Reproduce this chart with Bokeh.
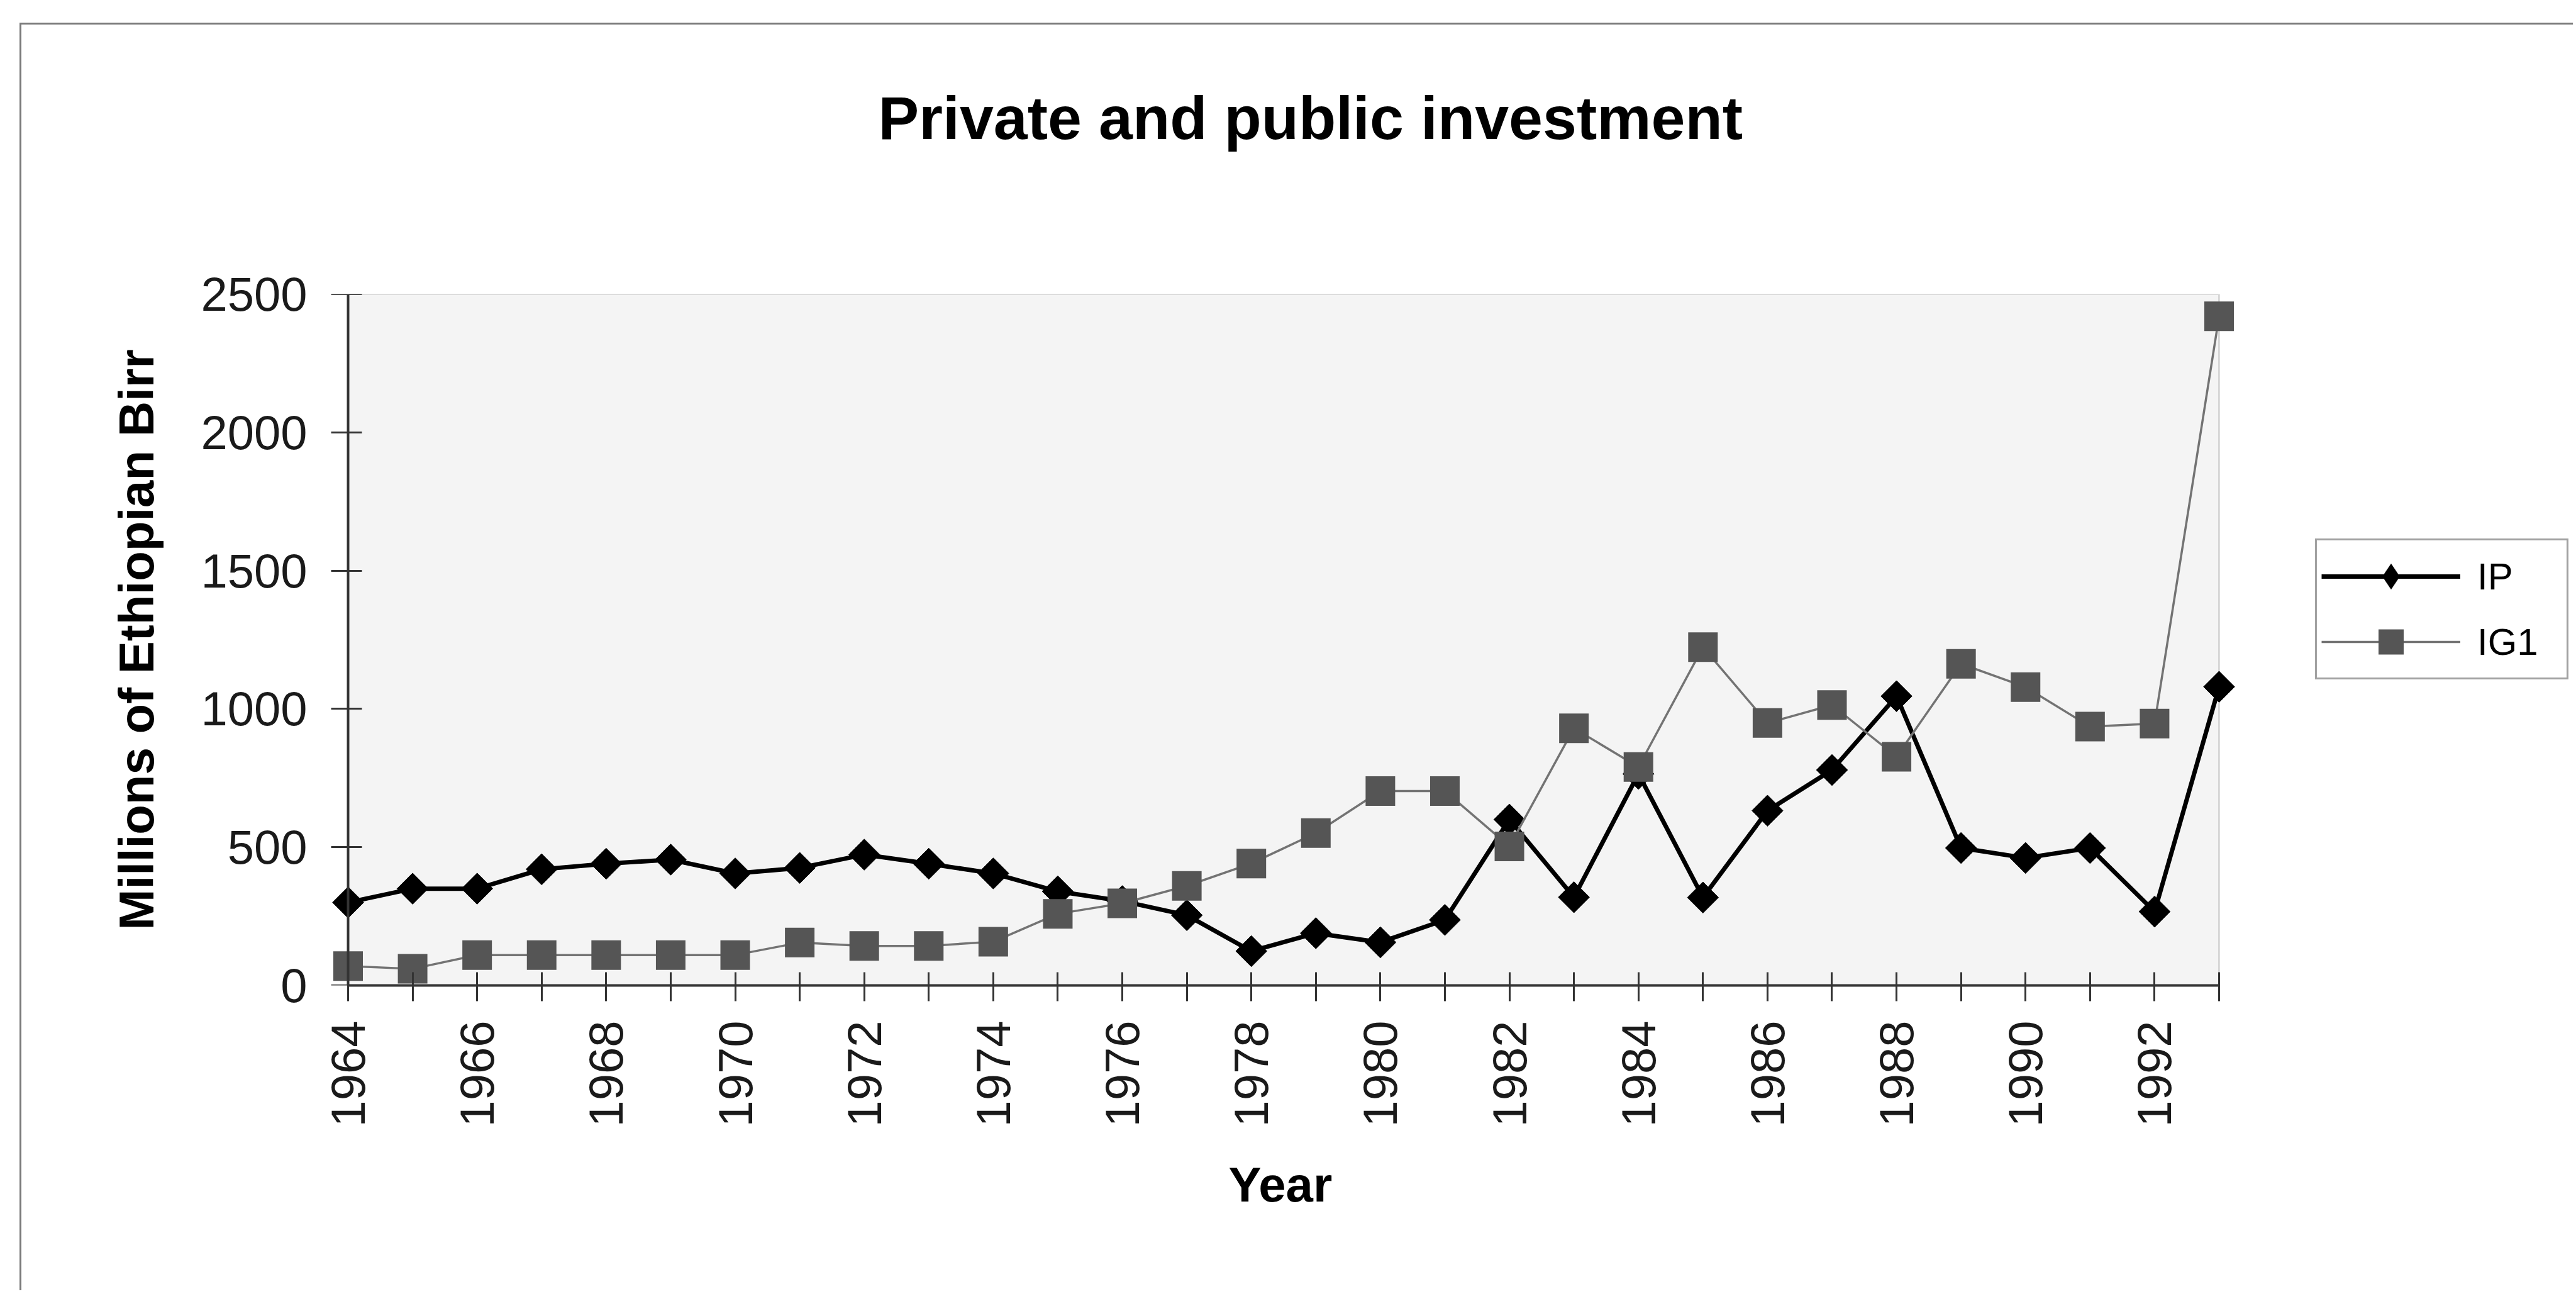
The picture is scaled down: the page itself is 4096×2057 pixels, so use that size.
import numpy as np
from bokeh.plotting import figure
from bokeh.models import (Range1d, FixedTicker, Legend, LegendItem, Title,
                          BoxAnnotation, LinearAxis)
from bokeh.embed import file_html
from bokeh.resources import INLINE

# ---- data ----
years = list(range(1964, 1994))
ip = [300, 350, 350, 420, 440, 455, 405, 425, 473, 440,
      405, 340, 305, 254, 124, 189, 156, 237, 600, 319,
      765, 318, 632, 779, 1046, 497, 461, 497, 267, 1080]
ig1 = [70, 60, 110, 110, 110, 110, 110, 155, 143, 143,
       158, 259, 297, 360, 441, 551, 703, 703, 503, 930,
       790, 1223, 949, 1014, 827, 1163, 1079, 936, 947, 2420]
y_ticks = [0, 500, 1000, 1500, 2000, 2500]
x_label_years = list(range(1964, 1993, 2))
x_minor_years = list(range(1965, 1994, 2))

title_text = "Private and public investment"
x_title = "Year"
y_title = "Millions of Ethiopian Birr"
series_names = ["IP", "IG1"]

FONT = "Liberation Sans"

# ---- layout (canvas pixels) ----
W, H = 4060, 2015
AXIS_L, AXIS_R = 519, 3494          # where the first / last year sit
FRAME_L = 491                       # frame starts a bit left of the axis (edge markers)
FRAME_R = W                         # frame runs to the right edge (legend lives inside)
PX_PER_YR = (AXIS_R - AXIS_L) / (years[-1] - years[0])
x_start = years[0] - (AXIS_L - FRAME_L) / PX_PER_YR
x_end = years[-1] + (FRAME_R - AXIS_R) / PX_PER_YR

p = figure(width=W, height=H, output_backend="svg", toolbar_location=None,
           x_range=Range1d(x_start, x_end),
           y_range=Range1d(y_ticks[0], y_ticks[-1]),
           min_border_left=FRAME_L, min_border_right=0,
           min_border_top=428, min_border_bottom=488,
           title_location=None,
           margin=(36, 0, 0, 31),
           styles={"border-top": "3px solid #7a7a7a", "border-left": "3px solid #7a7a7a"})

p.background_fill_color = "white"
p.border_fill_color = "white"
p.outline_line_color = None
p.xgrid.visible = False
p.ygrid.visible = False

# plot area (spans exactly the axis extents)
plot_area = BoxAnnotation(left=years[0], right=years[-1], bottom=y_ticks[0], top=y_ticks[-1],
                          fill_color="#f4f4f4", fill_alpha=1.0,
                          line_color="#8f8f8f", line_width=3, level="underlay")
p.add_layout(plot_area)

# title: a thin spacer next to the frame, then the real title outside it
spacer = Title(text=" ", text_font_size="1px", standoff=218)
p.add_layout(spacer, "above")
main_title = Title(text=title_text, align="left", offset=871, standoff=10,
                   text_font=FONT, text_font_size="97px", text_font_style="bold",
                   text_color="black")
p.add_layout(main_title, "above")

# x axis
xa = p.xaxis[0]
xa.ticker = FixedTicker(ticks=x_label_years, minor_ticks=x_minor_years)
xa.bounds = (years[0], years[-1])
xa.major_label_orientation = np.pi / 2
xa.axis_line_color = "#333333"
xa.axis_line_width = 4
xa.major_tick_line_color = "#333333"
xa.major_tick_line_width = 3
xa.minor_tick_line_color = "#333333"
xa.minor_tick_line_width = 3
xa.major_tick_in = 21
xa.major_tick_out = 25
xa.minor_tick_in = 21
xa.minor_tick_out = 25
xa.major_label_standoff = 31

# x-axis title, centred under the axis span (not the wider frame)
x_title_box = Title(text=x_title, align="left", offset=1428, standoff=88,
                    vertical_align="top",
                    text_font=FONT, text_font_size="78px", text_font_style="bold",
                    text_color="black")
p.add_layout(x_title_box, "below")

# y axis, labels only (sits at the frame edge)
ya = p.yaxis[0]
ya.ticker = FixedTicker(ticks=y_ticks)
ya.axis_label = y_title
ya.axis_line_color = None
ya.major_tick_line_color = None
ya.minor_tick_line_color = None
ya.major_tick_in = 0
ya.major_tick_out = 0
ya.major_label_standoff = 37
ya.axis_label_standoff = 55

# y axis rule + ticks, exactly at the first year
ya_rule = LinearAxis(ticker=FixedTicker(ticks=y_ticks), fixed_location=years[0],
                     axis_line_color="#333333", axis_line_width=4,
                     major_tick_line_color="#333333", major_tick_line_width=3,
                     minor_tick_line_color=None,
                     major_tick_in=22, major_tick_out=27,
                     major_label_text_font_size="1px", major_label_text_alpha=0,
                     major_label_standoff=0)
p.add_layout(ya_rule, "left")

for ax in (xa, ya):
    ax.major_label_text_font = FONT
    ax.major_label_text_font_size = "76px"
    ax.major_label_text_color = "#1a1a1a"
    ax.axis_label_text_font = FONT
    ax.axis_label_text_font_size = "78px"
    ax.axis_label_text_font_style = "bold"
    ax.axis_label_text_color = "black"

# series
r_ip_line = p.line(years, ip, line_color="black", line_width=7)
r_ip_pts = p.scatter(years, ip, marker="square", angle=np.pi / 4, size=35,
                     fill_color="black", line_color="black")
r_ig_line = p.line(years, ig1, line_color="#737373", line_width=3.5)
r_ig_pts = p.scatter(years, ig1, marker="square", size=47,
                     fill_color="#555555", line_color=None)

# legend-only diamond swatch (legend glyphs are never rotated, so use a diamond marker)
r_ip_key = p.scatter([np.nan], [np.nan], marker="diamond", size=35,
                     fill_color="black", line_color="black")

legend = Legend(items=[LegendItem(label=series_names[0], renderers=[r_ip_line, r_ip_key]),
                       LegendItem(label=series_names[1], renderers=[r_ig_line, r_ig_pts])],
                location=(3647 - FRAME_L, 486))
legend.label_text_font = FONT
legend.label_text_font_size = "60px"
legend.label_text_color = "black"
legend.glyph_width = 221
legend.glyph_height = 100
legend.label_height = 100
legend.label_width = 135
legend.label_standoff = 27
legend.spacing = 4
legend.padding = 7
legend.margin = 0
legend.border_line_color = "#444444"
legend.border_line_width = 3
legend.background_fill_color = "white"
legend.background_fill_alpha = 1.0
p.add_layout(legend, "center")

open("out.html", "w").write(file_html(p, INLINE))
